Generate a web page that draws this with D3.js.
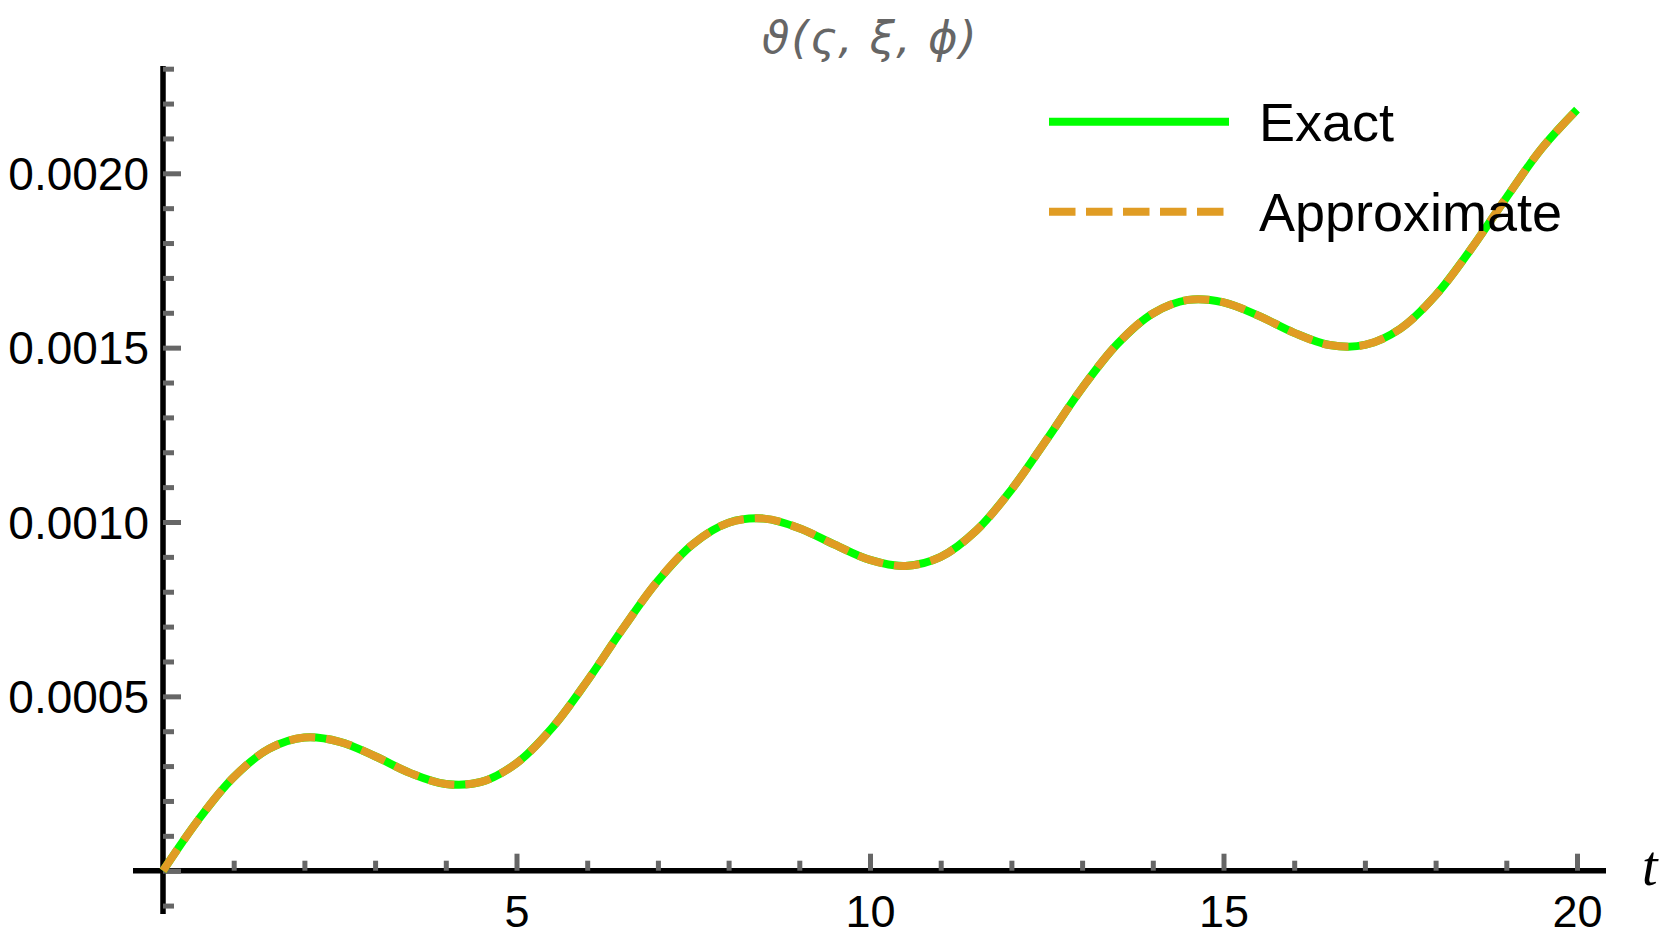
<!DOCTYPE html>
<html>
<head>
<meta charset="utf-8">
<script src="https://cdn.jsdelivr.net/npm/d3@7"></script>
<style>
  html, body { margin: 0; padding: 0; background: #fff; }
  svg { display: block; }
</style>
</head>
<body>
<svg id="chart" width="1669" height="946"></svg>
<script>
// ---- data ----
const tValues = [0,0.5,1,1.5,2,2.5,3,3.5,4,4.5,5,5.5,6,6.5,7,7.5,8,8.5,9,9.5,10,
                 10.5,11,11.5,12,12.5,13,13.5,14,14.5,15,15.5,16,16.5,17,17.5,18,18.5,19,19.5,20];
const exactValues = [0,0.0001459,0.0002683,0.0003495,0.0003819,0.0003697,0.0003282,0.0002798,
                 0.0002486,0.0002545,0.0003082,0.0004089,0.0005441,0.0006930,0.0008314,0.0009376,
                 0.0009979,0.0010097,0.0009824,0.0009350,0.0008912,0.0008741,0.0009000,0.0009749,
                 0.0010927,0.0012367,0.0013840,0.0015108,0.0015981,0.0016370,0.0016301,0.0015913,
                 0.0015424,0.0015076,0.0015077,0.0015543,0.0016498,0.0017823,0.0019300,0.0020711,0.0021826];
const approxValues = [0,0.0001459,0.0002683,0.0003495,0.0003819,0.0003697,0.0003282,0.0002798,
                 0.0002486,0.0002545,0.0003082,0.0004089,0.0005441,0.0006930,0.0008314,0.0009376,
                 0.0009979,0.0010097,0.0009824,0.0009350,0.0008912,0.0008741,0.0009000,0.0009749,
                 0.0010927,0.0012367,0.0013840,0.0015108,0.0015981,0.0016370,0.0016301,0.0015913,
                 0.0015424,0.0015076,0.0015077,0.0015543,0.0016498,0.0017823,0.0019300,0.0020711,0.0021826];
const seriesNames = ["Exact", "Approximate"];
const xMajorTicks = [5, 10, 15, 20];
const xMinorTicks = [1,2,3,4,6,7,8,9,11,12,13,14,16,17,18,19];
const yMajorTicks = [0, 0.0005, 0.0010, 0.0015, 0.0020];
const yMinorTicks = [-0.0001,0.0001,0.0002,0.0003,0.0004,0.0006,0.0007,0.0008,0.0009,0.0011,0.0012,
                     0.0013,0.0014,0.0016,0.0017,0.0018,0.0019,0.0021,0.0022,0.0023];
const yTickLabels = ["0.0005", "0.0010", "0.0015", "0.0020"];
const titleText = "ϑ(ς, ξ, ϕ)";
const xAxisLabel = "t";

// ---- layout ----
const svg = d3.select("#chart");
const x = d3.scaleLinear().domain([0, 20]).range([163, 1577]);
const y = d3.scaleLinear().domain([0, 0.002]).range([870.7, 173.3]);
const tickColor = "#666666";
const green = "#00ff00";
const orange = "#e09c24";
const labelFont = "'Liberation Sans', Arial, sans-serif";

// axis lines
svg.append("line").attr("x1", 133).attr("x2", 1606)
  .attr("y1", y(0)).attr("y2", y(0))
  .attr("stroke", "#000").attr("stroke-width", 5.5);
svg.append("line").attr("x1", x(0)).attr("x2", x(0))
  .attr("y1", 66).attr("y2", 914)
  .attr("stroke", "#000").attr("stroke-width", 5.5);

function styleTicks(g) {
  g.select(".domain").remove();
  g.selectAll(".tick line").attr("stroke", tickColor).attr("stroke-width", 5);
}

// x ticks (pointing up into plot)
svg.append("g").attr("transform", `translate(0,${y(0)})`)
  .call(d3.axisBottom(x).tickValues(xMinorTicks).tickSizeInner(-10).tickSizeOuter(0).tickFormat(""))
  .call(styleTicks);
svg.append("g").attr("transform", `translate(0,${y(0)})`)
  .call(d3.axisBottom(x).tickValues(xMajorTicks).tickSizeInner(-17).tickSizeOuter(0).tickFormat(""))
  .call(styleTicks);
// x labels
const xLab = svg.append("g").attr("transform", `translate(0,${y(0)})`)
  .call(d3.axisBottom(x).tickValues(xMajorTicks).tickSize(0).tickPadding(24).tickFormat(d3.format("d")));
xLab.select(".domain").remove();
xLab.selectAll("text").attr("font-family", labelFont).attr("font-size", 45).attr("fill", "#000");

// y ticks (pointing right into plot)
svg.append("g").attr("transform", `translate(${x(0)},0)`)
  .call(d3.axisLeft(y).tickValues(yMinorTicks).tickSizeInner(-11).tickSizeOuter(0).tickFormat(""))
  .call(styleTicks);
svg.append("g").attr("transform", `translate(${x(0)},0)`)
  .call(d3.axisLeft(y).tickValues(yMajorTicks).tickSizeInner(-18).tickSizeOuter(0).tickFormat(""))
  .call(styleTicks);
// y labels
const yLab = svg.append("g").attr("transform", `translate(${x(0)},0)`)
  .call(d3.axisLeft(y).tickValues(yMajorTicks.slice(1)).tickSize(0).tickPadding(14)
    .tickFormat((d, i) => yTickLabels[i]));
yLab.select(".domain").remove();
yLab.selectAll("text").attr("font-family", labelFont).attr("font-size", 46).attr("fill", "#000")
  .attr("dy", "0.35em");

// axis label t
svg.append("text").attr("x", 1642).attr("y", 885)
  .attr("font-family", "'Liberation Serif', 'Times New Roman', serif")
  .attr("font-style", "italic").attr("font-size", 56).attr("fill", "#000")
  .text(xAxisLabel);

// title
svg.append("text").attr("x", 870).attr("y", 53).attr("text-anchor", "middle")
  .attr("font-family", "'DejaVu Sans', 'Noto Sans', sans-serif")
  .attr("font-style", "italic").attr("font-size", 45).attr("letter-spacing", 1.5)
  .attr("fill", "#666666")
  .text(titleText);

// curves
const exactData = tValues.map((t, i) => [t, exactValues[i]]);
const approxData = tValues.map((t, i) => [t, approxValues[i]]);
const line = d3.line().x(d => x(d[0])).y(d => y(d[1])).curve(d3.curveCatmullRom.alpha(0.5));

svg.append("path").datum(exactData).attr("d", line)
  .attr("fill", "none").attr("stroke", green).attr("stroke-width", 8)
  .attr("stroke-linejoin", "round");
svg.append("path").datum(approxData).attr("d", line)
  .attr("fill", "none").attr("stroke", orange).attr("stroke-width", 8)
  .attr("stroke-dasharray", "26,11").attr("stroke-linejoin", "round");

// legend
const legend = svg.append("g");
const legendItems = [
  { name: seriesNames[0], color: green, dash: null, y: 121.7, x2: 1229 },
  { name: seriesNames[1], color: orange, dash: "26.5,10.5", y: 211.7, x2: 1225 }
];
legendItems.forEach(it => {
  legend.append("line").attr("x1", 1049).attr("x2", it.x2).attr("y1", it.y).attr("y2", it.y)
    .attr("stroke", it.color).attr("stroke-width", 8)
    .attr("stroke-dasharray", it.dash);
  legend.append("text").attr("x", 1259).attr("y", it.y + 19.5)
    .attr("font-family", labelFont).attr("font-size", 54).attr("fill", "#000")
    .text(it.name);
});
</script>
</body>
</html>
